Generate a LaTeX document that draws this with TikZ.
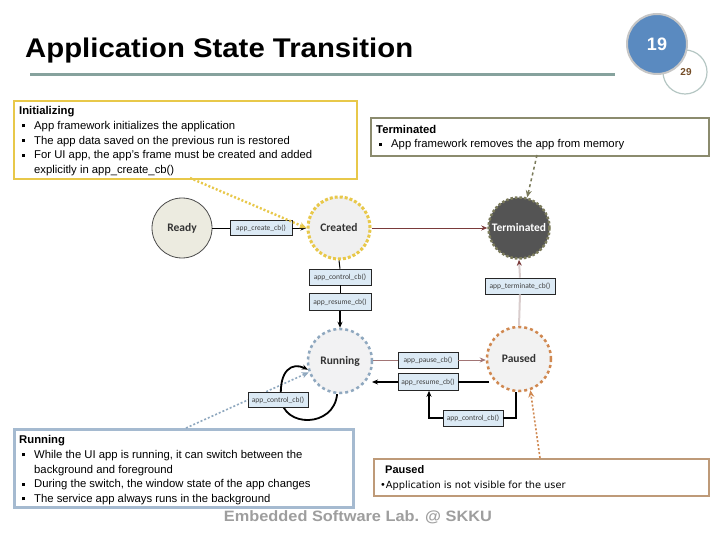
\documentclass[tikz,border=0pt]{standalone}
\usepackage{fontspec}
\usepackage{graphicx}
\setmainfont{Liberation Sans}
\newfontfamily\calfont{Carlito}
\newfontfamily\dvsfont{DejaVu Sans}
\usetikzlibrary{arrows.meta,calc}
\definecolor{initc}{HTML}{E8C84A}
\definecolor{termc}{HTML}{8B8B6E}
\definecolor{runc}{HTML}{A5BAD0}
\definecolor{pauc}{HTML}{BE9A78}
\definecolor{rulec}{HTML}{86A29D}
\definecolor{bluec}{HTML}{5A8AC0}
\definecolor{cbfill}{HTML}{DCEAF5}
\definecolor{darkred}{HTML}{7A3A3A}
\definecolor{lightred}{HTML}{D9CDCD}
\definecolor{runborder}{HTML}{8FA8BF}
\definecolor{pauborder}{HTML}{D08850}
\definecolor{termborder}{HTML}{7B7B5B}
\definecolor{readyfill}{HTML}{ECEBE0}
\newcommand{\bul}{\makebox[15pt][l]{\hspace{3pt}\rule[2pt]{3pt}{3pt}}}
\newcommand{\hng}{\hspace*{15pt}}
\tikzset{
  infobox/.style={draw, line width=2pt, anchor=north west, inner sep=0pt},
  infotext/.style={anchor=north west, inner sep=0pt, align=left, font=\fontsize{11.3}{14.6}\selectfont},
  state/.style={circle, draw, inner sep=0pt, font=\calfont\bfseries\fontsize{11.5}{11.5}\selectfont, text=black!80},
  cb/.style={draw=black!85, fill=cbfill, line width=0.6pt, inner sep=0pt, font=\calfont\fontsize{7.5}{7.5}\selectfont, text=black!75},
  note/.style={line width=2pt, dotted, -{Stealth[length=7pt,width=6pt]}},
  tip/.style={-{Stealth[length=6pt,width=5pt]}}
}
\begin{document}
\begin{tikzpicture}[x=1pt,y=-1pt]
\useasboundingbox (0,0) rectangle (720,540);
\fill[white] (0,0) rectangle (720,540);

% title
\node[anchor=base west, inner sep=0pt, font=\bfseries\fontsize{27}{27}\selectfont] (title) at (25,58) {\resizebox{388pt}{\height}{Application State Transition}};
\draw[rulec, line width=3pt] (30,75) -- (615,75);
\node[circle, draw=rulec!60, line width=1.2pt, fill=white, minimum size=44pt, inner sep=0pt] (pg) at (685,72) {};
\node[inner sep=0pt, text=brown!60!black, font=\bfseries\fontsize{10}{10}\selectfont] (pgnum) at (686,72) {29};
\node[circle, draw=gray!45, line width=2pt, fill=bluec, minimum size=60pt, inner sep=0pt, text=white, font=\bfseries\fontsize{18}{18}\selectfont] (num) at (657,44) {19};

% info boxes
\node[infobox, draw=initc, minimum width=343pt, minimum height=78pt] (init) at (13,100) {};
\node[infotext] (inittext) at (19,106.5) {\textbf{Initializing}\\
\bul App framework initializes the application\\
\bul The app data saved on the previous run is restored\\
\bul For UI app, the app's frame must be created and added\\
\hng explicitly in app\_create\_cb()};

\node[infobox, draw=termc, minimum width=338pt, minimum height=38pt] (term) at (370,117) {};
\node[infotext] (termtext) at (376,125) {\textbf{Terminated}\\
\bul App framework removes the app from memory};

\node[infobox, draw=runc, line width=2.5pt, minimum width=339pt, minimum height=78pt] (runbox) at (13,428) {};
\node[infotext] (runtext) at (19,435.5) {\textbf{Running}\\
\bul While the UI app is running, it can switch between the\\
\hng background and foreground\\
\bul During the switch, the window state of the app changes\\
\bul The service app always runs in the background};

\node[infobox, draw=pauc, minimum width=335pt, minimum height=37pt] (paubox) at (373,458) {};
\node[anchor=base west, inner sep=0pt, font=\bfseries\fontsize{11}{11}\selectfont] (pauhead) at (385,473) {Paused};
\node[anchor=base west, inner sep=0pt, font=\dvsfont\fontsize{9.8}{9.8}\selectfont] (pauline) at (380,488) {\textbullet Application is not visible for the user};

% footer
\node[inner sep=0pt, text=black!38, font=\bfseries\fontsize{15}{15}\selectfont] (foot) at (358,517) {\resizebox{268pt}{\height}{Embedded Software Lab. @ SKKU}};

% states
\node[state, fill=readyfill, draw=black!70, line width=0.8pt, minimum size=60pt] (ready) at (182,228) {Ready};
\node[state, fill=black!6, draw=initc, line width=3pt, dotted, minimum size=62pt] (cre) at (339,228) {Created};
\node[state, fill=black!67, draw=termborder, line width=2.5pt, dotted, minimum size=61pt, text=white] (ter) at (519,228) {Terminated};
\node[state, fill=blue!4!black!5, draw=runborder, line width=2.5pt, dashed, minimum size=64pt] (run) at (340,361) {Running};
\node[state, fill=black!5, draw=pauborder, line width=2.5pt, dashed, minimum size=64pt] (pau) at (519,359) {Paused};

% callback boxes
\node[cb, minimum width=62pt, minimum height=15pt] (cbcreate) at (261,228) {app\_create\_cb()};
\node[cb, minimum width=62pt, minimum height=16pt] (cbctl1) at (340,277) {app\_control\_cb()};
\node[cb, minimum width=62pt, minimum height=17pt] (cbres1) at (340,302) {app\_resume\_cb()};
\node[cb, minimum width=70pt, minimum height=16pt] (cbterm) at (520,286) {app\_terminate\_cb()};
\node[cb, minimum width=60pt, minimum height=16pt] (cbpause) at (428,360) {app\_pause\_cb()};
\node[cb, minimum width=60pt, minimum height=17pt] (cbres2) at (428,382) {app\_resume\_cb()};
\node[cb, minimum width=60pt, minimum height=16pt] (cbctl2) at (473,418) {app\_control\_cb()};

% connectors
\draw[line width=0.8pt] (ready.east) -- (cbcreate.west);
\draw[line width=0.8pt, tip] (cbcreate.east) -- (cre.west);
\draw[darkred, line width=0.7pt, tip] (cre.east) -- (ter.west);
\draw[lightred, line width=2pt] (pau.north) -- (cbterm.south);
\draw[lightred, line width=2pt, -{Stealth[length=6pt,width=5pt,color=darkred]}] (cbterm.north) -- (ter.south);
\draw[line width=1pt] (cre.south) -- (cbctl1.north);
\draw[line width=1pt] (cbctl1.south) -- (cbres1.north);
\draw[line width=1.5pt, tip] (cbres1.south) -- (run.north);
\draw[darkred!70, line width=0.7pt] (run.east |- cbpause) -- (cbpause.west);
\draw[darkred!70, line width=0.7pt, tip] (cbpause.east) -- (pau.west |- cbpause);
\coordinate (rr) at (372,382);
\coordinate (pr) at (489,382);
\draw[line width=1.8pt] (pr) -- (cbres2.east);
\draw[line width=1.8pt, tip] (cbres2.west) -- (rr);
\coordinate (kk) at (429,418);
\draw[line width=1.8pt] (pau.265) |- (cbctl2.east);
\draw[line width=1.8pt, tip] (cbctl2.west) -- (kk) -- (kk |- cbres2.south);

% note arrows
\coordinate (ia) at (190,178);
\coordinate (ta) at (537,155);
\coordinate (ra) at (186,428);
\coordinate (pa) at (540,458);
\draw[note, initc, line width=2.4pt] (ia) -- (cre.west);
\draw[note, termborder, dashed, line width=1.5pt] (ta) -- (ter.75);
\draw[note, runborder, line width=1.6pt] (ra) -- (run.200);
\draw[note, pauborder, line width=1.6pt] (pa) -- (pau.290);

% running loop
\coordinate (lp) at (281,398);
\draw[line width=1.8pt] (run.265) .. controls (334,428) and (283,428) .. (lp);
\draw[line width=1.8pt, tip] (lp) .. controls (279,370) and (292,362) .. (run.195);
\node[cb, minimum width=60pt, minimum height=15pt] (cbctl3) at (278,400) {app\_control\_cb()};
\end{tikzpicture}
\end{document}
